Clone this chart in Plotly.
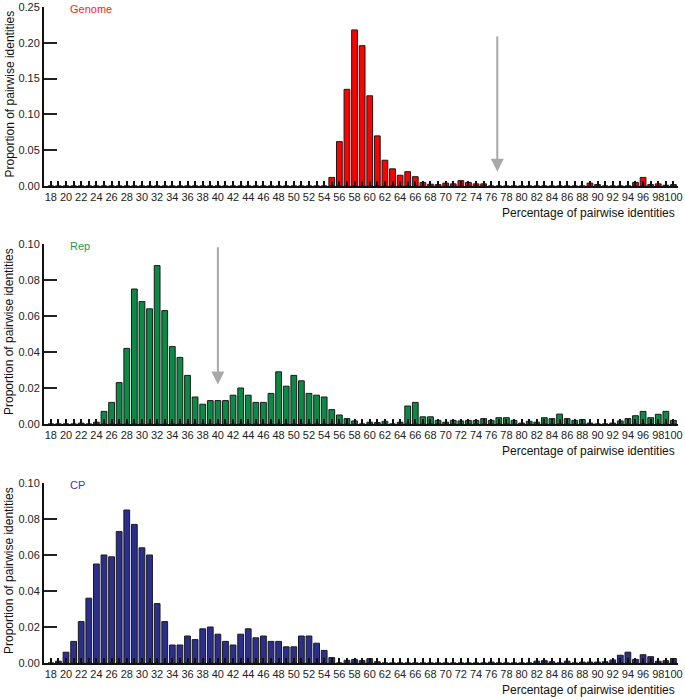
import plotly.graph_objects as go

pct = list(range(18, 101))

genome = ([0.0] * 37 +
          [0.012, 0.062, 0.135, 0.218, 0.196, 0.126, 0.070, 0.036, 0.024, 0.015,
           0.020, 0.013, 0.005, 0.0025, 0.002, 0.004, 0.003, 0.0075, 0.005, 0.003, 0.003] +
          [0.0] * 13 +
          [0.004, 0.002, 0.0, 0.0, 0.0, 0.0, 0.005, 0.012, 0.002, 0.003, 0.001, 0.002])

rep = [0, 0, 0, 0, 0.0005, 0, 0.001, 0.007, 0.012, 0.023,
       0.042, 0.075, 0.068, 0.064, 0.088, 0.063, 0.043, 0.037, 0.027, 0.015,
       0.011, 0.013, 0.013, 0.013, 0.016, 0.020, 0.016, 0.012, 0.012, 0.017,
       0.029, 0.021, 0.027, 0.024, 0.017, 0.016, 0.015, 0.008, 0.005, 0.003,
       0.0017, 0, 0.001, 0.0008, 0.0015, 0, 0.001, 0.010, 0.012, 0.004,
       0.004, 0.002, 0.001, 0.002, 0.0017, 0.002, 0.002, 0.003, 0.002, 0.0035,
       0.0035, 0.002, 0.0005, 0.0015, 0.001, 0.0035, 0.003, 0.0055, 0.003, 0.002,
       0.0025, 0.0005, 0, 0, 0.0005, 0.0017, 0.003, 0.0046, 0.007, 0.0035,
       0.0054, 0.007, 0.002]

cp = [0.0, 0.001, 0.006, 0.012, 0.023, 0.036, 0.055, 0.060, 0.059, 0.073,
      0.085, 0.077, 0.064, 0.060, 0.033, 0.023, 0.010, 0.010, 0.015, 0.013,
      0.019, 0.020, 0.016, 0.012, 0.010, 0.016, 0.019, 0.014, 0.015, 0.012,
      0.012, 0.009, 0.009, 0.015, 0.015, 0.011, 0.007, 0.003, 0, 0.0015,
      0.002, 0.0013, 0.0024, 0.0007] + [0.0] * 14 + \
     [0.0005, 0, 0, 0, 0, 0, 0.001, 0.0013, 0.0007, 0,
      0.001, 0, 0.0005, 0.0005, 0.0005, 0.0007, 0.0017, 0.0043, 0.006, 0.002,
      0.0046, 0.0035, 0.001, 0.0013, 0.0025]

panel_names = ["Genome", "Rep", "CP"]
panel_colors = ["#ff0000", "#0a8a45", "#2b2e8c"]
label_colors = ["#ff1a1a", "#1a9a55", "#3a3aa8"]
y_max = [0.25, 0.10, 0.10]
y_dtick = [0.05, 0.02, 0.02]
arrow_x = [76.8, 40.0]
arrow_top = [0.211, 0.099]
arrow_tip = [0.020, 0.022]

xlabel = "Percentage of pairwise identities"
ylabel = "Proportion of pairwise identities"

series = [genome, rep, cp]
assert all(len(s) == len(pct) for s in series)

W, H = 685, 700
ML, MR, MT, MB = 44, 7, 7, 37
PH = H - MT - MB
PW = W - ML - MR


def py(pix):
    return (H - MB - pix) / PH


def px(pix):
    return (pix - ML) / PW


panel_pix = [(7, 186), (244, 424), (483, 663)]

fig = go.Figure()
font_family = "Liberation Sans, Arial, sans-serif"
tickvals = pct
ticktext = [str(v) if v % 2 == 0 else "" for v in pct]

annotations = []
for i, (vals, col) in enumerate(zip(series, panel_colors)):
    n = "" if i == 0 else str(i + 1)
    fig.add_trace(go.Bar(x=pct, y=vals, marker=dict(color=col, line=dict(color="#1a1a1a", width=1)),
                         width=0.76, xaxis="x" + n, yaxis="y" + n, showlegend=False))
    top, bot = panel_pix[i]
    dom = [max(0.0, py(bot)), min(1.0, py(top))]
    fig.layout["yaxis" + n] = dict(
        domain=dom, anchor="x" + n, range=[0, y_max[i]], dtick=y_dtick[i], tickformat=".2f",
        ticks="inside", ticklen=13, tickwidth=2, tickcolor="#222", automargin=False,
        showline=True, linecolor="#111", linewidth=2, showgrid=False, zeroline=False,
        tickfont=dict(size=11, color="#222", family=font_family))
    fig.layout["xaxis" + n] = dict(
        domain=[0, 1], anchor="y" + n, range=[17.1, 100.6], automargin=False,
        tickmode="array", tickvals=tickvals, ticktext=ticktext,
        ticks="inside", ticklen=5, tickwidth=2, tickcolor="#111",
        showline=True, linecolor="#111", linewidth=2, showgrid=False, zeroline=False,
        tickangle=0, tickfont=dict(size=11, color="#222", family=font_family))
    annotations.append(dict(text=xlabel, xref="paper", yref="paper", x=px(677),
                            y=py(bot + 27), xanchor="right", yanchor="middle", showarrow=False,
                            font=dict(size=12, color="#111", family=font_family)))
    annotations.append(dict(text=ylabel, xref="paper", yref="paper", x=px(9),
                            y=py((top + bot) / 2 - 2), xanchor="center", yanchor="middle",
                            textangle=-90, showarrow=False,
                            font=dict(size=12, color="#111", family=font_family)))
    annotations.append(dict(text=panel_names[i], xref="paper", yref="paper", x=px(68),
                            y=py(top + 2), xanchor="left", yanchor="middle", showarrow=False,
                            font=dict(size=11, color=label_colors[i], family=font_family)))

for i in range(2):
    n = "" if i == 0 else str(i + 1)
    annotations.append(dict(x=arrow_x[i], y=arrow_tip[i], ax=arrow_x[i], ay=arrow_top[i],
                            xref="x" + n, yref="y" + n, axref="x" + n, ayref="y" + n,
                            text="", showarrow=True, arrowhead=2, arrowsize=1.3,
                            arrowwidth=2, arrowcolor="#a8a8a8"))

fig.update_layout(width=W, height=H, margin=dict(l=ML, r=MR, t=MT, b=MB, autoexpand=False),
                  plot_bgcolor="white", paper_bgcolor="white", bargap=0.24,
                  annotations=annotations, font=dict(family=font_family))

fig.write_html("out.html", config={"displayModeBar": False},
               post_script="document.body.style.margin='0';document.body.style.overflow='hidden';")
